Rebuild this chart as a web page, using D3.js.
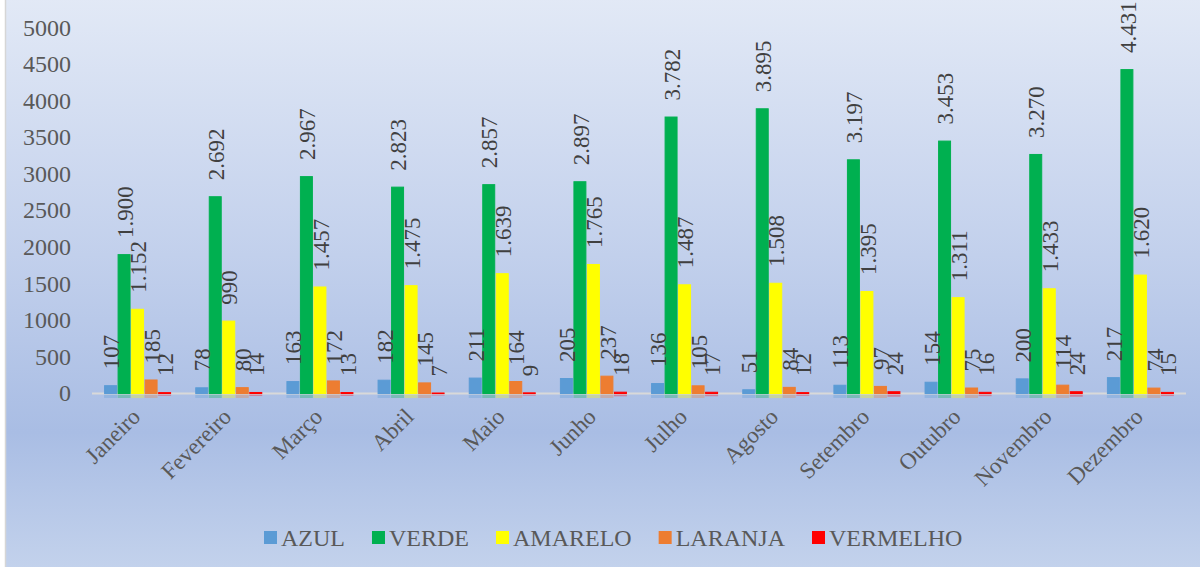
<!DOCTYPE html>
<html>
<head>
<meta charset="utf-8">
<script src="https://cdn.jsdelivr.net/npm/d3@7"></script>
<style>
  body { margin: 0; background: #fff; }
  svg text { font-family: "Liberation Serif", "Times New Roman", serif; }
</style>
</head>
<body>
<div id="chart"></div>
<script>
// Data
const months = ["Janeiro", "Fevereiro", "Março", "Abril", "Maio", "Junho",
                "Julho", "Agosto", "Setembro", "Outubro", "Novembro", "Dezembro"];
const seriesNames = ["AZUL", "VERDE", "AMARELO", "LARANJA", "VERMELHO"];
const azul = [107, 78, 163, 182, 211, 205, 136, 51, 113, 154, 200, 217];
const verde = [1900, 2692, 2967, 2823, 2857, 2897, 3782, 3895, 3197, 3453, 3270, 4431];
const amarelo = [1152, 990, 1457, 1475, 1639, 1765, 1487, 1508, 1395, 1311, 1433, 1620];
const laranja = [185, 80, 172, 145, 164, 237, 105, 84, 97, 75, 114, 74];
const vermelho = [12, 14, 13, 7, 9, 18, 17, 12, 24, 16, 24, 15];
const yTicks = [0, 500, 1000, 1500, 2000, 2500, 3000, 3500, 4000, 4500, 5000];

const seriesValues = [azul, verde, amarelo, laranja, vermelho];
const colors = ["#5b9bd5", "#00b050", "#ffff00", "#ed7d31", "#ff0000"];

const W = 1200, H = 567;
const FONT = '"Liberation Serif", "Times New Roman", serif';
const plot = { left: 92, right: 1186, top: 27.5, bottom: 393 };

const svg = d3.select("#chart").append("svg")
    .attr("width", W)
    .attr("height", H);

// background gradient
const defs = svg.append("defs");
const grad = defs.append("linearGradient")
    .attr("id", "bg").attr("x1", 0).attr("y1", 0).attr("x2", 0).attr("y2", 1);
grad.append("stop").attr("offset", "0").attr("stop-color", "#e2e9f6");
grad.append("stop").attr("offset", "0.45").attr("stop-color", "#c2d0ec");
grad.append("stop").attr("offset", "0.76").attr("stop-color", "#a9bde4");
grad.append("stop").attr("offset", "1").attr("stop-color", "#c3d2ec");

svg.append("rect")
    .attr("x", 5.5).attr("y", -2)
    .attr("width", W).attr("height", H + 4)
    .attr("fill", "url(#bg)")
    .attr("stroke", "#d6d6d6")
    .attr("stroke-width", 1.5);

// Scales
const x0 = d3.scaleBand()
    .domain(months)
    .range([plot.left, plot.right])
    .paddingInner(0.265)
    .paddingOuter(0.1325);

const x1 = d3.scaleBand()
    .domain(seriesNames)
    .range([0, x0.bandwidth()])
    .paddingInner(0.04);

const y = d3.scaleLinear()
    .domain([0, 5000])
    .range([plot.bottom, plot.top]);

const color = d3.scaleOrdinal().domain(seriesNames).range(colors);

const ptFormat = d3.formatLocale({ decimal: ",", thousands: ".", grouping: [3], currency: ["", ""] }).format(",d");

// Y axis (labels only)
const yAxis = svg.append("g")
    .attr("transform", `translate(${plot.left - 21},0)`)
    .call(d3.axisLeft(y).tickValues(yTicks).tickSize(0).tickPadding(0).tickFormat(d3.format("d")));
yAxis.select(".domain").remove();
yAxis.selectAll("text")
    .attr("fill", "#595959")
    .style("font-family", FONT)
    .style("font-size", "24px")
    .attr("dy", "0.32em");

// Flatten rows for drawing
const rows = [];
months.forEach((m, i) => {
    seriesNames.forEach((s, j) => {
        rows.push({ month: m, series: s, value: seriesValues[j][i] });
    });
});

// faint reflection under the axis
svg.append("g").selectAll("rect")
    .data(rows)
    .join("rect")
    .attr("x", d => x0(d.month) + x1(d.series))
    .attr("y", plot.bottom + 1)
    .attr("width", x1.bandwidth())
    .attr("height", d => Math.min(4, plot.bottom - y(d.value) + 1))
    .attr("fill", d => color(d.series))
    .attr("opacity", 0.3);

// Axis line
svg.append("line")
    .attr("x1", plot.left).attr("x2", plot.right)
    .attr("y1", plot.bottom + 0.5).attr("y2", plot.bottom + 0.5)
    .attr("stroke", "#d9d9d9")
    .attr("stroke-width", 2);

// Bars
svg.append("g").selectAll("rect")
    .data(rows)
    .join("rect")
    .attr("x", d => x0(d.month) + x1(d.series) + 0.5)
    .attr("y", d => y(d.value) + 0.5)
    .attr("width", x1.bandwidth() - 1)
    .attr("height", d => plot.bottom - y(d.value))
    .attr("fill", d => color(d.series))
    .attr("stroke", d => color(d.series))
    .attr("stroke-width", 1);

// Data labels, rotated
svg.append("g").selectAll("text")
    .data(rows)
    .join("text")
    .attr("transform", d => {
        const cx = x0(d.month) + x1(d.series) + x1.bandwidth() / 2 + 1;
        return `translate(${cx},${y(d.value) - 16}) rotate(-90)`;
    })
    .attr("dy", "0.33em")
    .attr("fill", "#404040")
    .style("font-family", FONT)
    .style("font-size", "23px")
    .text(d => ptFormat(d.value));

// Month labels
const xAxis = svg.append("g")
    .attr("transform", `translate(0,${plot.bottom})`)
    .call(d3.axisBottom(x0).tickSize(0).tickPadding(0));
xAxis.select(".domain").remove();
xAxis.selectAll("text")
    .attr("fill", "#595959")
    .style("font-family", FONT)
    .style("font-size", "23px")
    .attr("text-anchor", "end")
    .attr("dy", null)
    .attr("y", null)
    .attr("transform", "translate(4,25) rotate(-45)");

// Legend
const legend = svg.append("g");
let lx = 264;
seriesNames.forEach(s => {
    legend.append("rect")
        .attr("x", lx).attr("y", 531)
        .attr("width", 13).attr("height", 13)
        .attr("fill", color(s));
    const t = legend.append("text")
        .attr("x", lx + 17).attr("y", 546)
        .attr("fill", "#595959")
        .style("font-family", FONT)
        .style("font-size", "24px")
        .text(s);
    lx += 17 + t.node().getComputedTextLength() + 27;
});
</script>
</body>
</html>
